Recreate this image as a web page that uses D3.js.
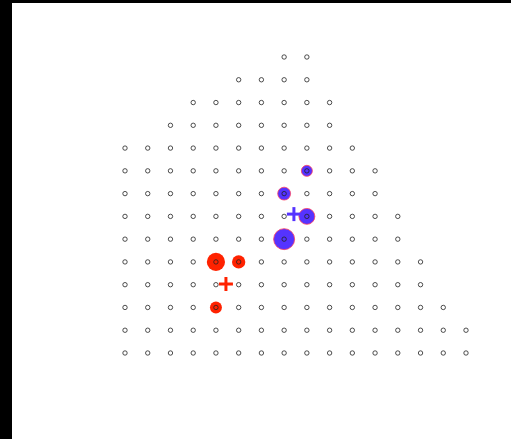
<!DOCTYPE html>
<html>
<head>
<meta charset="utf-8">
<script src="https://cdn.jsdelivr.net/npm/d3@7"></script>
<style>
  html, body { margin: 0; padding: 0; background: #000; }
  svg { display: block; }
</style>
</head>
<body>
<script>
// Grid rows (y level from bottom) and the column range present on each row
const rowLevels = [0, 1, 2, 3, 4, 5, 6, 7, 8, 9, 10, 11, 12, 13];
const rowColStart = [0, 0, 0, 0, 0, 0, 0, 0, 0, 0, 2, 3, 5, 7];
const rowColEnd   = [15, 15, 14, 13, 13, 12, 12, 11, 11, 10, 9, 9, 8, 8];

// Red group
const redX = [4, 5, 4];
const redY = [4, 4, 2];
const redSize = [3.0, 1.6, 1.3];
const redMean = [4.44, 3.03];

// Blue group
const blueX = [8, 7, 8, 7];
const blueY = [8, 7, 6, 5];
const blueSize = [1.1, 1.5, 2.3, 4.0];
const blueMean = [7.43, 6.1];

const W = 511, H = 439;
const svg = d3.select("body").append("svg").attr("width", W).attr("height", H);
svg.append("rect").attr("width", W).attr("height", H).attr("fill", "#000");
svg.append("rect").attr("x", 12).attr("y", 3).attr("width", W - 12).attr("height", H - 3).attr("fill", "#fff");

const x = d3.scaleLinear().domain([0, 15]).range([125, 466]);
const y = d3.scaleLinear().domain([0, 13]).range([353, 57]);
const r = d3.scaleSqrt().domain([0, 4]).range([0, 10.5]);

const grid = [];
rowLevels.forEach((lv, i) => {
  for (let c = rowColStart[i]; c <= rowColEnd[i]; c++) grid.push({ x: c, y: lv });
});

const red = redX.map((d, i) => ({ x: d, y: redY[i], s: redSize[i] }));
const blue = blueX.map((d, i) => ({ x: d, y: blueY[i], s: blueSize[i] }));

const RED = "#ff2200", BLUE = "#5533ff";

svg.append("g").selectAll("circle").data(red).join("circle")
  .attr("cx", d => x(d.x)).attr("cy", d => y(d.y)).attr("r", d => r(d.s))
  .attr("fill", RED);

svg.append("g").selectAll("circle").data(blue).join("circle")
  .attr("cx", d => x(d.x)).attr("cy", d => y(d.y)).attr("r", d => r(d.s))
  .attr("fill", BLUE).attr("stroke", "#ff4060").attr("stroke-width", 1).attr("stroke-opacity", 0.8);

svg.append("g").selectAll("circle").data(grid).join("circle")
  .attr("cx", d => x(d.x)).attr("cy", d => y(d.y)).attr("r", 2.2)
  .attr("fill", "none").attr("stroke", "#222").attr("stroke-width", 0.8);

function plus(m, color) {
  const cx = x(m[0]), cy = y(m[1]), a = 7;
  const g = svg.append("g").attr("stroke", color).attr("stroke-width", 3);
  g.append("line").attr("x1", cx - a).attr("x2", cx + a).attr("y1", cy).attr("y2", cy);
  g.append("line").attr("x1", cx).attr("x2", cx).attr("y1", cy - a).attr("y2", cy + a);
}
plus(blueMean, BLUE);
plus(redMean, RED);
</script>
</body>
</html>
